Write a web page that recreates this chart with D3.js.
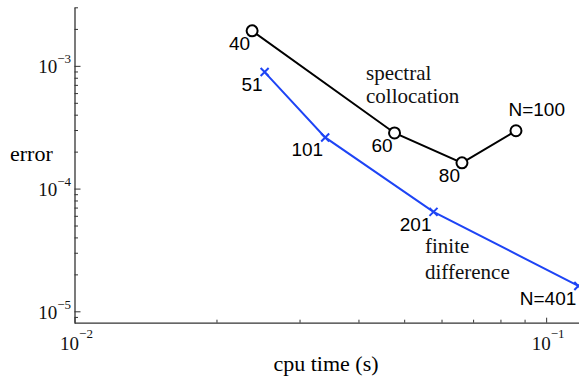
<!DOCTYPE html>
<html>
<head>
<meta charset="utf-8">
<script src="https://cdn.jsdelivr.net/npm/d3@7"></script>
<style>
  body { margin: 0; background: #fff; }
  svg { display: block; }
</style>
</head>
<body>
<div id="chart"></div>
<script>
// spectral collocation runs
var specN = ["40", "60", "80", "N=100"];
var specTime = [0.0238, 0.0477, 0.0663, 0.0863];
var specErr = [1.93e-3, 2.84e-4, 1.62e-4, 2.96e-4];

// finite difference runs
var fdN = ["51", "101", "201", "N=401"];
var fdTime = [0.0253, 0.0340, 0.0577, 0.117];
var fdErr = [8.9e-4, 2.61e-4, 6.46e-5, 1.61e-5];

// axis ticks
var xMajor = [0.01, 0.1];
var xMajorExp = ["−2", "−1"];
var xMinor = [0.02, 0.03, 0.04, 0.05, 0.06, 0.07, 0.08, 0.09];
var yMajor = [1e-5, 1e-4, 1e-3];
var yMajorExp = ["−5", "−4", "−3"];
var yMinor = [9e-6, 2e-5, 3e-5, 4e-5, 5e-5, 6e-5, 7e-5, 8e-5, 9e-5,
  2e-4, 3e-4, 4e-4, 5e-4, 6e-4, 7e-4, 8e-4, 9e-4, 2e-3, 3e-3];

var width = 579, height = 381;
var serif = "'Liberation Serif', 'Times New Roman', serif";
var sans = "'Liberation Sans', Arial, Helvetica, sans-serif";
var blue = "#1e44f5";

var svg = d3.select("#chart").append("svg")
  .attr("width", width)
  .attr("height", height);

var x = d3.scaleLog().domain([0.01, 0.12]).range([74.5, 583.5]);
var y = d3.scaleLog().domain([8e-6, 3e-3]).range([323.2, 7.3]);

var x0 = 74.5, y0 = 322.7;

// y axis
var yAxisG = svg.append("g").attr("transform", "translate(" + x0 + ",0)");
yAxisG.call(d3.axisLeft(y).tickValues(yMinor).tickSize(-3.5).tickSizeOuter(0).tickFormat(""));
var yMaj = svg.append("g").attr("transform", "translate(" + x0 + ",0)")
  .call(d3.axisLeft(y).tickValues(yMajor).tickSize(-6).tickSizeOuter(0).tickFormat(""));
yMaj.select(".domain").remove();

// x axis
var xAxisG = svg.append("g").attr("transform", "translate(0," + y0 + ")");
xAxisG.call(d3.axisBottom(x).tickValues(xMinor).tickSize(-3).tickSizeOuter(0).tickFormat(""));
var xMaj = svg.append("g").attr("transform", "translate(0," + y0 + ")")
  .call(d3.axisBottom(x).tickValues(xMajor).tickSize(-5).tickSizeOuter(0).tickFormat(""));
xMaj.select(".domain").remove();

svg.selectAll(".domain").attr("stroke", "#333").attr("stroke-width", 1.3);
svg.selectAll(".tick line").attr("stroke", "#333").attr("stroke-width", 1);

// tick labels with superscripts
yMajor.forEach(function (v, i) {
  var t = svg.append("text")
    .attr("x", 71).attr("y", y(v) + 7.5)
    .attr("text-anchor", "end")
    .attr("font-family", serif)
    .attr("font-size", 19)
    .attr("fill", "#111");
  t.append("tspan").text("10");
  t.append("tspan").attr("font-size", 13).attr("dy", -10).text(yMajorExp[i]);
});

xMajor.forEach(function (v, i) {
  var t = svg.append("text")
    .attr("x", x(v) + 2).attr("y", 350)
    .attr("text-anchor", "middle")
    .attr("font-family", serif)
    .attr("font-size", 19)
    .attr("fill", "#111");
  t.append("tspan").text("10");
  t.append("tspan").attr("font-size", 13).attr("dy", -12).text(xMajorExp[i]);
});

// axis titles
svg.append("text")
  .attr("x", 10).attr("y", 161)
  .attr("font-family", serif).attr("font-size", 22)
  .text("error");

svg.append("text")
  .attr("x", 326).attr("y", 371)
  .attr("text-anchor", "middle")
  .attr("font-family", serif).attr("font-size", 22)
  .text("cpu time (s)");

var line = d3.line()
  .x(function (d) { return x(d[0]); })
  .y(function (d) { return y(d[1]); });

var spec = specTime.map(function (t, i) { return [t, specErr[i], specN[i]]; });
var fd = fdTime.map(function (t, i) { return [t, fdErr[i], fdN[i]]; });

// finite difference
svg.append("path")
  .datum(fd)
  .attr("d", line)
  .attr("fill", "none")
  .attr("stroke", blue)
  .attr("stroke-width", 2);

svg.selectAll(".xmark")
  .data(fd)
  .enter().append("path")
  .attr("class", "xmark")
  .attr("transform", function (d) { return "translate(" + x(d[0]) + "," + y(d[1]) + ")"; })
  .attr("d", "M-4,-4L4,4M-4,4L4,-4")
  .attr("stroke", blue)
  .attr("stroke-width", 2)
  .attr("fill", "none");

// spectral collocation
svg.append("path")
  .datum(spec)
  .attr("d", line)
  .attr("fill", "none")
  .attr("stroke", "#000")
  .attr("stroke-width", 2);

svg.selectAll(".omark")
  .data(spec)
  .enter().append("circle")
  .attr("class", "omark")
  .attr("cx", function (d) { return x(d[0]); })
  .attr("cy", function (d) { return y(d[1]); })
  .attr("r", 5.5)
  .attr("fill", "#fff")
  .attr("stroke", "#000")
  .attr("stroke-width", 2);

// N labels
function nLabel(d) {
  var top = d[2] === "N=100";
  return svg.append("text")
    .attr("x", x(d[0]) + (top ? -7.5 : -2))
    .attr("y", y(d[1]) + (top ? -14.5 : 19))
    .attr("text-anchor", top ? "start" : "end")
    .attr("font-family", sans)
    .attr("font-size", 19)
    .attr("fill", "#000")
    .text(d[2]);
}
spec.forEach(nLabel);
fd.forEach(nLabel);

// series annotations
[["spectral", 366, 80], ["collocation", 366, 103],
 ["finite", 425, 253], ["difference", 425, 279]].forEach(function (a) {
  svg.append("text")
    .attr("x", a[1]).attr("y", a[2])
    .attr("font-family", serif).attr("font-size", 21)
    .attr("fill", "#111")
    .text(a[0]);
});
</script>
</body>
</html>
